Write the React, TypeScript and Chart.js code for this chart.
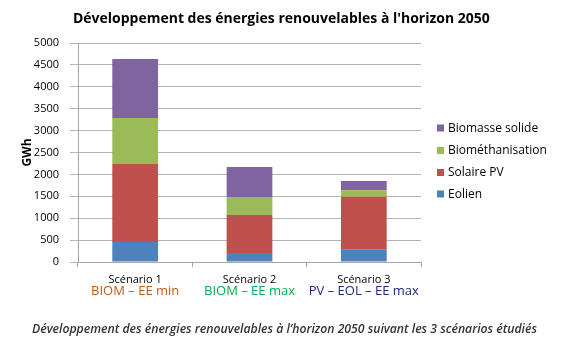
import React, { useEffect, useRef } from "react";
import { Chart, registerables } from "chart.js";

Chart.register(...registerables);

const categories = ["Scénario 1", "Scénario 2", "Scénario 3"];
const scenarioNotes = ["BIOM – EE min", "BIOM – EE max", "PV – EOL – EE max"];
const noteColors = ["#C55A11", "#00B050", "#1F2A7A"];

const eolien = [457, 205, 290];
const solairePV = [1780, 868, 1201];
const biomethanisation = [1051, 411, 146];
const biomasseSolide = [1347, 685, 212];

const seriesNames = ["Eolien", "Solaire PV", "Biométhanisation", "Biomasse solide"];
const seriesColors = ["#4F81BD", "#C0504D", "#9BBB59", "#8064A2"];

const yMax = 5000;
const yStep = 500;

const titleText = "Développement des énergies renouvelables à l'horizon 2050";
const captionText =
  "Développement des énergies renouvelables à l’horizon 2050 suivant les 3 scénarios étudiés";
const yTitle = "GWh";

const FONT = "'Open Sans', 'DejaVu Sans', sans-serif";

function fitFont(ctx: CanvasRenderingContext2D, text: string, style: string, base: number, target: number) {
  ctx.font = `${style} ${base}px ${FONT}`;
  const w = ctx.measureText(text).width;
  const size = (base * target) / w;
  return `${style} ${size}px ${FONT}`;
}

const overlayPlugin = {
  id: "overlay",
  afterDraw(chart: any) {
    const ctx: CanvasRenderingContext2D = chart.ctx;
    const xScale = chart.scales.x;
    const area = chart.chartArea;
    ctx.save();

    // Title
    ctx.fillStyle = "#000";
    ctx.textAlign = "left";
    ctx.textBaseline = "middle";
    ctx.font = fitFont(ctx, titleText, "bold", 14, 417);
    ctx.fillText(titleText, 73, 19.5);

    // Legend (reverse order)
    const legendY = [128, 150.5, 172.5, 194];
    for (let i = 0; i < seriesNames.length; i++) {
      const idx = seriesNames.length - 1 - i;
      const y = legendY[i];
      ctx.fillStyle = seriesColors[idx];
      ctx.fillRect(437, y - 3.5, 7, 7);
      ctx.fillStyle = "#000";
      ctx.font = `12px ${FONT}`;
      ctx.textAlign = "left";
      ctx.textBaseline = "middle";
      ctx.fillText(seriesNames[idx], 448, y + 0.5);
    }

    // Scenario notes (second line under category labels)
    ctx.textAlign = "center";
    ctx.textBaseline = "middle";
    for (let i = 0; i < categories.length; i++) {
      const x = xScale.getPixelForValue(i);
      ctx.font = `13px ${FONT}`;
      ctx.fillStyle = noteColors[i];
      ctx.fillText(scenarioNotes[i], x, area.bottom + 29.5);
    }

    // Caption
    ctx.fillStyle = "#333";
    ctx.textAlign = "left";
    ctx.font = fitFont(ctx, captionText, "italic 600", 11, 505);
    ctx.fillText(captionText, 32, 330);

    ctx.restore();
  },
};

export default function App() {
  const canvasRef = useRef<HTMLCanvasElement | null>(null);

  useEffect(() => {
    if (!canvasRef.current) return;
    const data = [eolien, solairePV, biomethanisation, biomasseSolide];
    const chart = new Chart(canvasRef.current, {
      type: "bar",
      data: {
        labels: categories,
        datasets: seriesNames.map((name, i) => ({
          label: name,
          data: data[i],
          backgroundColor: seriesColors[i],
          borderWidth: 0,
          barPercentage: 0.4,
          categoryPercentage: 1,
        })),
      },
      options: {
        responsive: false,
        animation: false,
        layout: { padding: { top: 43, right: 159, left: 0, bottom: 0 } },
        plugins: {
          legend: { display: false },
          title: { display: false },
          tooltip: { enabled: false },
        },
        scales: {
          x: {
            stacked: true,
            afterFit: (s: any) => {
              s.height = 89;
            },
            grid: {
              display: true,
              drawOnChartArea: false,
              drawTicks: true,
              tickLength: 5,
              color: "#A6A6A6",
              offset: true,
            },
            border: { display: true, color: "#A6A6A6" },
            ticks: {
              color: "#000",
              font: { family: FONT, size: 11 },
              padding: 6,
            },
          },
          y: {
            stacked: true,
            min: 0,
            max: yMax,
            afterFit: (s: any) => {
              s.width = 78;
            },
            grid: {
              color: "#B3B3B3",
              drawTicks: true,
              tickLength: 8,
            },
            border: { display: true, color: "#A6A6A6" },
            ticks: {
              stepSize: yStep,
              color: "#000",
              font: { family: FONT, size: 11 },
              padding: 11,
              callback: (v: any) => String(v),
            },
            title: {
              display: true,
              text: yTitle,
              color: "#000",
              font: { family: FONT, size: 12, weight: "bold" },
              padding: { top: 20, bottom: 0 },
            },
          },
        },
      },
      plugins: [overlayPlugin],
    });
    return () => chart.destroy();
  }, []);

  return (
    <div style={{ position: "fixed", left: 0, top: 0, width: 580, height: 351, background: "#fff" }}>
      <canvas ref={canvasRef} width={580} height={351} style={{ display: "block" }} />
    </div>
  );
}
